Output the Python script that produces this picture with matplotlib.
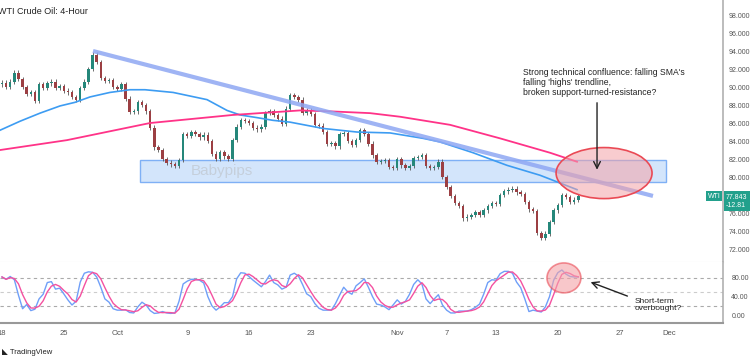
# WTI Crude Oil 4h con SMAs, linea de tendencia y estocastico
import matplotlib
matplotlib.use("Agg")
import matplotlib.pyplot as plt
import numpy as np
from matplotlib.patches import Ellipse, Rectangle

plt.rcParams['font.family'] = ['Liberation Sans', 'DejaVu Sans']

# cierres (3 velas por dia de trading)
closes = [90.5, 90.0, 90.6, 91.6, 90.9, 90.0, 89.2, 89.4, 88.5, 90.3,
          89.9, 90.4, 90.6, 89.9, 90.1, 89.6, 89.4, 88.9, 88.6, 89.9,
          90.6, 92.0, 93.6, 92.8, 91.0, 90.7, 90.8, 90.0, 89.8, 90.3,
          88.7, 87.2, 87.3, 88.3, 88.0, 87.3, 85.5, 83.3, 83.0, 82.0,
          81.6, 81.4, 81.2, 81.9, 84.8, 84.6, 85.0, 84.8, 84.4, 84.7,
          84.0, 82.6, 82.0, 82.8, 82.3, 82.0, 84.1, 85.6, 86.3, 86.2,
          86.0, 85.5, 85.3, 85.6, 87.1, 87.3, 86.9, 86.5, 85.9, 87.6,
          89.1, 88.9, 88.6, 87.1, 87.4, 87.0, 85.8, 85.7, 85.0, 83.7,
          83.8, 83.4, 84.8, 84.9, 84.0, 83.6, 84.1, 85.2, 84.8, 83.7,
          82.4, 81.7, 81.8, 81.9, 81.1, 81.0, 82.0, 81.3, 81.0, 81.2,
          82.1, 82.2, 82.4, 81.2, 81.0, 81.1, 81.7, 80.0, 78.9, 77.9,
          77.1, 76.8, 75.4, 75.6, 75.8, 76.1, 75.8, 76.3, 76.8, 77.1,
          77.0, 78.0, 78.4, 78.6, 78.7, 78.3, 78.1, 77.2, 76.4, 76.2,
          73.8, 73.2, 73.7, 75.0, 76.3, 76.9, 78.0, 77.8, 77.2, 77.5,
          77.84]
first_open = 90.3
WICK = 0.25

# estocastico %K
stoch_k = [82, 77, 83, 76, 43, 14, 23, 10, 13, 35,
           45, 70, 72, 56, 58, 46, 33, 22, 30, 71,
           90, 93, 92, 82, 60, 35, 28, 14, 11, 11,
           12, 6, 5, 18, 28, 22, 10, 4, 5, 8,
           5, 4, 5, 30, 67, 73, 77, 77, 75, 69,
           40, 20, 11, 18, 27, 27, 40, 78, 91, 90,
           83, 75, 68, 61, 72, 86, 70, 65, 56, 60,
           86, 90, 84, 66, 46, 40, 25, 15, 11, 11,
           11, 25, 43, 60, 50, 45, 63, 70, 78, 60,
           40, 24, 22, 18, 12, 22, 33, 24, 30, 45,
           66, 76, 67, 35, 25, 35, 44, 22, 11, 5,
           5, 9, 9, 9, 12, 17, 24, 45, 70, 76,
           75, 89, 94, 94, 90, 71, 59, 35, 8, 11,
           9, 7, 18, 40, 75, 91, 97, 88, 83, 82,
           82]

# medias moviles (dia, precio)
sma100_days = [-0.16, 1.46, 3.08, 4.70, 5.91, 7.13, 8.74, 10.36, 11.58, 13.85,
               16.60, 18.22, 19.27, 20.65, 21.94, 23.32, 25.99, 28.74, 31.42, 34.09,
               35.47, 38.14, 40.89, 43.56, 46.56]
sma100 = [85.2, 86.2, 87.1, 87.9, 88.3, 88.9, 89.4, 89.7, 89.7, 89.4,
          88.6, 87.4, 86.9, 86.6, 86.3, 86.1, 85.4, 85.0, 84.9, 84.3,
          83.9, 82.7, 81.3, 80.2, 78.6]
sma200_days = [-0.16, 5.26, 11.98, 18.70, 24.13, 26.56, 29.80, 32.23, 36.28, 40.32,
               44.37, 46.56]
sma200 = [83.0, 84.1, 86.0, 86.9, 87.4, 87.3, 87.1, 86.7, 85.8, 84.3,
          82.7, 81.7]

trend_days = [7.37, 52.71]
trend_price = [94.0, 77.9]
zone_days = [11.17, 53.77]
zone_price = [79.45, 81.9]

price_ticks = [72, 74, 76, 80, 82, 84, 86, 88, 90, 92, 94, 96, 98]
date_pos = [0, 5, 9.4, 15, 20, 25, 32, 36, 40, 45, 50, 54]
date_labels = ["18", "25", "Oct", "9", "16", "23", "Nov", "7", "13", "20", "27", "Dec"]

closes = np.array(closes)
opens = np.r_[first_open, closes[:-1]]
highs = np.maximum(opens, closes) + WICK
lows = np.minimum(opens, closes) - WICK
days = np.arange(len(closes)) / 3
k = np.array(stoch_k, dtype=float)
d_line = np.r_[k[:2], np.convolve(k, np.ones(3) / 3, 'valid')]

W, H = 750, 363
fig = plt.figure(figsize=(7.5, 3.63), dpi=100)
ax = fig.add_axes([0, 1 - 262 / H, 723 / W, 262 / H])
ax2 = fig.add_axes([0, 1 - 323 / H, 723 / W, 61 / H])
xl = (-0.162, 58.38)

# zona soporte/resistencia
ax.add_patch(Rectangle((zone_days[0], zone_price[0]), zone_days[1] - zone_days[0],
                       zone_price[1] - zone_price[0], facecolor='#d3e5fb',
                       edgecolor='#7fb0f5', lw=1, zorder=1))
ax.text(17.8, 80.65, "Babypips", fontsize=11, color='#c5cfdb', ha='center', va='center', zorder=1)

# velas
up = closes >= opens
ax.vlines(days, lows, highs, color='#555555', lw=0.6, zorder=2)
ax.bar(days[up], (closes - opens)[up], bottom=opens[up], width=0.2, color='#25877a', zorder=3)
ax.bar(days[~up], (closes - opens)[~up], bottom=opens[~up], width=0.2, color='#9c3f43', zorder=3)

ax.plot(sma100_days, sma100, color='#3d9cf2', lw=1.2, zorder=4)
ax.plot(sma200_days, sma200, color='#ff3388', lw=1.3, zorder=4)
ax.plot(trend_days, trend_price, color='#8ea7f3', lw=3, alpha=0.85, solid_capstyle='butt', zorder=5)

ax.add_patch(Ellipse((48.75, 80.44), 7.77, 5.67, facecolor='#f4a3a8', alpha=0.55,
                     edgecolor='none', zorder=6))
ax.add_patch(Ellipse((48.75, 80.44), 7.77, 5.67, facecolor='none',
                     edgecolor='#ea4a55', lw=1.2, zorder=6))
ax.annotate("", xy=(48.18, 80.5), xytext=(48.18, 88.56),
            arrowprops=dict(arrowstyle='->', color='#222222', lw=1, mutation_scale=12), zorder=7)
ax.text(42.19, 92.1, "Strong technical confluence: falling SMA's\nfalling 'highs' trendline,\nbroken support-turned-resistance?",
        fontsize=6.2, va='top', ha='left', linespacing=1.1, color='#222222')

ax.set_xlim(xl)
ax.set_ylim(70.56, 99.67)
ax.yaxis.tick_right()
ax.set_yticks(price_ticks)
ax.set_yticklabels([f"{v:.3f}" for v in price_ticks])
ax.set_xticks([])
ax.tick_params(axis='y', length=0, pad=4, labelsize=5, colors='#555555')
for s in ['top', 'left']:
    ax.spines[s].set_visible(False)
ax.spines['bottom'].set_color('#e3e3e3')
ax.spines['right'].set_color('#b0b0b0')
ax.spines['right'].set_linewidth(1.2)

# estocastico
for lvl, c in [(80, '#aaaaaa'), (50, '#cccccc'), (20, '#aaaaaa')]:
    ax2.axhline(lvl, ls=(0, (3, 3)), color=c, lw=0.8, zorder=1)
ax2.plot(days, k, color='#6f9ff8', lw=1, zorder=3)
ax2.plot(days, d_line, color='#f451a0', lw=1, zorder=3)
ax2.add_patch(Ellipse((45.5, 80), 2.75, 64, facecolor='#f4a3a8', alpha=0.6,
                      edgecolor='#ea4a55', lw=1.2, zorder=4))
ax2.annotate("", xy=(47.45, 73), xytext=(50.85, 39),
             arrowprops=dict(arrowstyle='->', color='#222222', lw=1, mutation_scale=12))
ax2.text(51.2, 37, "Short-term\noverbought?", fontsize=6, va='top', ha='left',
         linespacing=1.05, color='#222222')
ax2.set_xlim(xl)
ax2.set_ylim(-16.5, 114)
ax2.yaxis.tick_right()
ax2.set_yticks([0, 40, 80])
ax2.set_yticklabels(["0.00", "40.00", "80.00"])
ax2.set_xticks(date_pos)
ax2.set_xticklabels(date_labels)
ax2.tick_params(axis='y', length=0, pad=6, labelsize=5, colors='#555555')
ax2.tick_params(axis='x', length=0, pad=5, labelsize=5.5, colors='#555555')
for s in ['top', 'left']:
    ax2.spines[s].set_visible(False)
ax2.spines['bottom'].set_color('#999999')
ax2.spines['bottom'].set_linewidth(1.5)
ax2.spines['right'].set_color('#b0b0b0')
ax2.spines['right'].set_linewidth(1.2)

# textos sueltos
fig.text(-2 / W, 1 - 12 / H, "WTI Crude Oil: 4-Hour", fontsize=6.5, va='center', color='#222222')
fig.text(708 / W, 1 - 196 / H, "WTI", fontsize=5, color='white', va='center',
         bbox=dict(boxstyle='square,pad=0.25', fc='#22a08c', ec='none'))
fig.text(726 / W, 1 - 201 / H, "77.843\n-12.81", fontsize=5, color='white', va='center',
         linespacing=1.2, bbox=dict(boxstyle='square,pad=0.3', fc='#22a08c', ec='none'))
fig.text(2 / W, 1 - 352 / H, "\u25e3 TradingView", fontsize=5.5, va='center', color='#222222')

fig.savefig("out.png", dpi=100)
